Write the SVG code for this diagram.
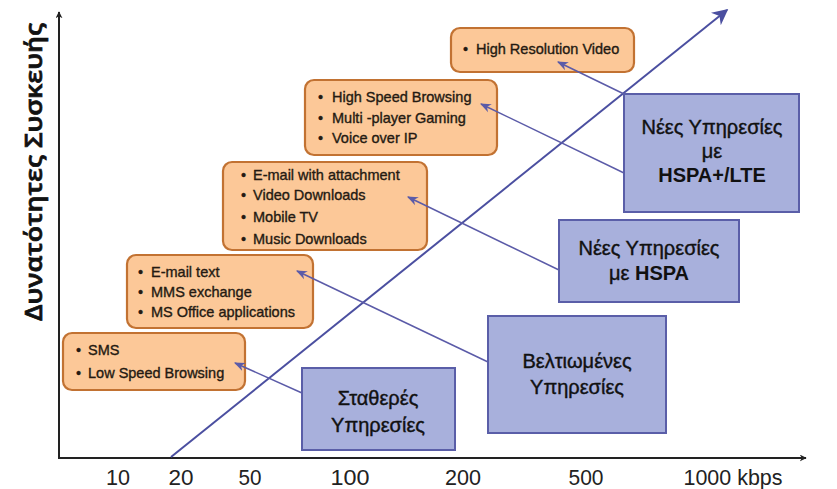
<svg xmlns="http://www.w3.org/2000/svg" width="837" height="489" viewBox="0 0 837 489">
<defs>
<marker id="ax" viewBox="0 0 10 10" refX="9" refY="5" markerWidth="7" markerHeight="7" markerUnits="userSpaceOnUse" orient="auto"><path d="M0,0 L10,5 L0,10 L3,5 z" fill="#222"/></marker>
<marker id="diag" viewBox="0 0 10 10" refX="9" refY="5" markerWidth="16" markerHeight="16" markerUnits="userSpaceOnUse" orient="auto"><path d="M0,0 L10,5 L0,10 L3,5 z" fill="#4b4fa0"/></marker>
<marker id="ar" viewBox="0 0 10 10" refX="9" refY="5" markerWidth="11" markerHeight="11" markerUnits="userSpaceOnUse" orient="auto"><path d="M0,1 L10,5 L0,9 L3,5 z" fill="#5b5ba8"/></marker>
<style>
.ob{fill:#fcc898;stroke:#c27232;stroke-width:2.2}
.bb{fill:#a8b0dc;stroke:#5a5ea8;stroke-width:2}
.ot{font-family:"Liberation Sans",Arial,sans-serif;font-size:14.5px;fill:#241a12;stroke:#241a12;stroke-width:0.35}
.bt{font-family:"Liberation Sans",Arial,sans-serif;font-size:20px;fill:#111;stroke:#111;stroke-width:0.4;text-anchor:middle}
.b{font-weight:bold;stroke-width:0}
.tk{font-family:"Liberation Sans",Arial,sans-serif;font-size:22px;fill:#222;text-anchor:middle}
.cn{stroke:#5b5ba8;stroke-width:1.5;fill:none;marker-end:url(#ar)}
</style>
</defs>
<rect width="837" height="489" fill="#fff"/>
<g id="axes">
<line x1="59" y1="458" x2="59" y2="12" stroke="#222" stroke-width="2" marker-end="url(#ax)"/>
<line x1="58" y1="458" x2="806" y2="458" stroke="#222" stroke-width="2" marker-end="url(#ax)"/>
<text transform="translate(42,172) rotate(-90)" font-family="'Open Sans','DejaVu Sans',sans-serif" font-weight="600" font-size="23" fill="#111" stroke="#111" stroke-width="0.7" text-anchor="middle" textLength="298" lengthAdjust="spacingAndGlyphs">Δυνατότητες Συσκευής</text>
<text class="tk" x="118" y="485" textLength="24" lengthAdjust="spacingAndGlyphs">10</text>
<text class="tk" x="181" y="485" textLength="25" lengthAdjust="spacingAndGlyphs">20</text>
<text class="tk" x="250" y="485" textLength="23" lengthAdjust="spacingAndGlyphs">50</text>
<text class="tk" x="350" y="485" textLength="39" lengthAdjust="spacingAndGlyphs">100</text>
<text class="tk" x="463" y="485" textLength="36" lengthAdjust="spacingAndGlyphs">200</text>
<text class="tk" x="586" y="485" textLength="35" lengthAdjust="spacingAndGlyphs">500</text>
<text class="tk" x="733" y="485" textLength="99" lengthAdjust="spacingAndGlyphs">1000 kbps</text>
</g>
<g id="diagonal">
<line x1="171" y1="457" x2="727" y2="10" stroke="#4b4fa0" stroke-width="2" marker-end="url(#diag)"/>
</g>
<g id="box-hrv">
<rect class="ob" x="451" y="28" width="183" height="44" rx="9"/>
<text class="ot" y="54"><tspan x="463">•</tspan><tspan x="476">High Resolution Video</tspan></text>
</g>
<g id="box-hsb">
<rect class="ob" x="305" y="80" width="192" height="75" rx="9"/>
<text class="ot" y="102"><tspan x="318">•</tspan><tspan x="332">High Speed Browsing</tspan></text>
<text class="ot" y="123"><tspan x="318">•</tspan><tspan x="332">Multi -player Gaming</tspan></text>
<text class="ot" y="143"><tspan x="318">•</tspan><tspan x="332">Voice over IP</tspan></text>
</g>
<g id="box-email">
<rect class="ob" x="223" y="162" width="204" height="88" rx="9"/>
<text class="ot" y="180"><tspan x="241">•</tspan><tspan x="253">E-mail with  attachment</tspan></text>
<text class="ot" y="200"><tspan x="241">•</tspan><tspan x="253">Video Downloads</tspan></text>
<text class="ot" y="222"><tspan x="241">•</tspan><tspan x="253">Mobile TV</tspan></text>
<text class="ot" y="244"><tspan x="241">•</tspan><tspan x="253">Music Downloads</tspan></text>
</g>
<g id="box-text">
<rect class="ob" x="127" y="255" width="186" height="73" rx="9"/>
<text class="ot" y="277"><tspan x="138">•</tspan><tspan x="151">E-mail  text</tspan></text>
<text class="ot" y="297"><tspan x="138">•</tspan><tspan x="151">MMS exchange</tspan></text>
<text class="ot" y="317"><tspan x="138">•</tspan><tspan x="151">MS Office applications</tspan></text>
</g>
<g id="box-sms">
<rect class="ob" x="63" y="333" width="182" height="57" rx="9"/>
<text class="ot" y="355"><tspan x="76">•</tspan><tspan x="88">SMS</tspan></text>
<text class="ot" y="378"><tspan x="76">•</tspan><tspan x="88">Low Speed Browsing</tspan></text>
</g>
<g id="connectors">
<line class="cn" x1="624" y1="94" x2="558" y2="62"/>
<line class="cn" x1="624" y1="173" x2="481" y2="104"/>
<line class="cn" x1="559" y1="270" x2="408" y2="197"/>
<line class="cn" x1="488" y1="362" x2="297" y2="271"/>
<line class="cn" x1="302" y1="393" x2="235" y2="363"/>
</g>
<g id="box-lte">
<rect class="bb" x="624" y="94" width="175" height="118"/>
<text class="bt" x="712" y="134">Νέες Υπηρεσίες</text>
<text class="bt" x="712" y="158">με</text>
<text class="bt b" x="712" y="182">HSPA+/LTE</text>
</g>
<g id="box-hspa">
<rect class="bb" x="559" y="220" width="180" height="82"/>
<text class="bt" x="649" y="255">Νέες Υπηρεσίες</text>
<text class="bt" x="649" y="280">με <tspan class="b">HSPA</tspan></text>
</g>
<g id="box-improved">
<rect class="bb" x="488" y="316" width="178" height="117"/>
<text class="bt" x="577" y="368">Βελτιωμένες</text>
<text class="bt" x="577" y="394">Υπηρεσίες</text>
</g>
<g id="box-fixed">
<rect class="bb" x="302" y="368" width="153" height="82"/>
<text class="bt" x="378" y="405">Σταθερές</text>
<text class="bt" x="378" y="432">Υπηρεσίες</text>
</g>
</svg>
